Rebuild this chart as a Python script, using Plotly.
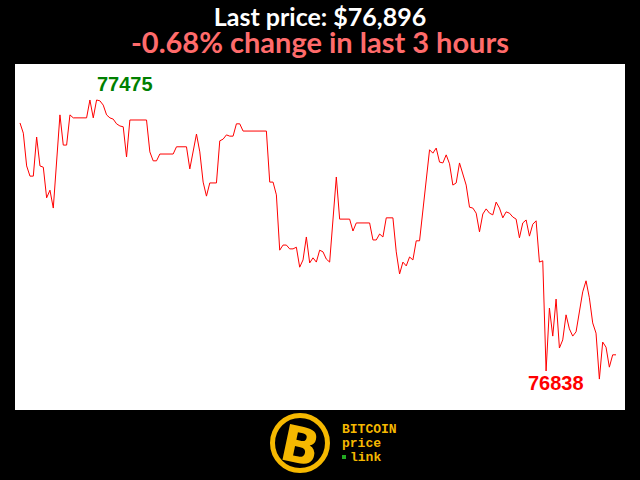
import plotly.graph_objects as go

# minute index within the 3-hour window, and price (USD)
minutes = [0, 1, 2, 3, 4, 5, 6, 7, 8, 9, 10, 12, 13, 14, 15, 16, 20, 21, 22, 23,
           24, 25, 26, 27, 28, 29, 30, 31, 32, 33, 38, 39, 40, 41, 42, 46, 47, 50, 51, 53,
           54, 55, 56, 57, 59, 60, 61, 62, 63, 64, 65, 66, 67, 74, 75, 76, 77, 78, 79, 80,
           81, 82, 83, 84, 85, 86, 87, 88, 89, 90, 91, 92, 93, 95, 96, 99, 100, 101, 105, 106,
           107, 108, 109, 110, 112, 113, 114, 115, 116, 117, 118, 119, 120, 123, 124, 125, 126, 127, 128, 129,
           130, 131, 132, 133, 134, 135, 136, 137, 138, 139, 140, 141, 142, 143, 144, 145, 146, 147, 148, 149,
           150, 151, 152, 153, 154, 155, 156, 157, 158, 159, 160, 161, 162, 163, 164, 165, 166, 167, 168, 169,
           170, 171, 172, 173, 174, 175, 176, 177, 178, 179]
prices = [77421, 77397, 77320, 77296, 77296, 77388, 77320, 77317, 77245, 77263, 77221, 77440, 77369, 77369, 77440, 77433, 77433, 77475, 77433, 77475,
          77473, 77463, 77440, 77433, 77430, 77419, 77414, 77412, 77341, 77428, 77428, 77353, 77332, 77332, 77348, 77348, 77365, 77365, 77313, 77395,
          77353, 77282, 77249, 77280, 77280, 77379, 77383, 77393, 77390, 77390, 77419, 77419, 77402, 77402, 77282, 77282, 77252, 77122, 77134, 77134,
          77125, 77125, 77129, 77082, 77099, 77153, 77092, 77104, 77094, 77122, 77118, 77101, 77094, 77294, 77195, 77195, 77167, 77186, 77186, 77146,
          77146, 77160, 77153, 77198, 77198, 77118, 77066, 77094, 77085, 77106, 77099, 77144, 77144, 77358, 77350, 77362, 77329, 77327, 77346, 77325,
          77275, 77280, 77327, 77303, 77275, 77223, 77221, 77209, 77165, 77207, 77219, 77209, 77205, 77235, 77221, 77198, 77212, 77209, 77200, 77195,
          77151, 77186, 77193, 77155, 77183, 77191, 77094, 77097, 76838, 76986, 76920, 77007, 76892, 76911, 76970, 76937, 76920, 76930, 76977, 77024,
          77050, 77010, 76951, 76927, 76819, 76906, 76894, 76847, 76876, 76876]

last_price = "$76,896"
change_pct = "-0.68%"
high_label = 77475
low_label = 76838

hi_i = minutes[prices.index(high_label)]
lo_i = minutes[prices.index(low_label)]

fig = go.Figure()
fig.add_trace(go.Scatter(x=minutes, y=prices, mode="lines",
                         line=dict(color="#ff0000", width=1), hoverinfo="skip"))

GOLD = "#f5b800"
title_html = (f"<span style='font-size:25px;color:#ffffff'>Last price: {last_price}</span><br>"
              f"<span style='font-size:29px;color:#ff6b6b'>{change_pct} change in last 3 hours</span>")

fig.update_layout(
    width=640, height=480,
    paper_bgcolor="#000000", plot_bgcolor="#ffffff",
    margin=dict(l=15, r=15, t=64, b=70),
    showlegend=False,
    xaxis=dict(range=[-1.5, 181.7], visible=False, showgrid=False, zeroline=False, fixedrange=True),
    yaxis=dict(range=[76746.3, 77559.6], visible=False, showgrid=False, zeroline=False, fixedrange=True),
    annotations=[
        dict(text=title_html, xref="paper", yref="paper", x=0.5, y=1, yshift=3,
             xanchor="center", yanchor="bottom", showarrow=False, align="center",
             font=dict(family="Lato", size=21, color="#ffffff", weight="bold")),
        dict(text=str(high_label), x=hi_i, y=high_label, xshift=35, yshift=16,
             xanchor="center", yanchor="middle", showarrow=False,
             font=dict(family="Liberation Sans", size=20, color="#008000", weight="bold")),
        dict(text=str(low_label), x=lo_i, y=low_label, xshift=10, yshift=-12,
             xanchor="center", yanchor="middle", showarrow=False,
             font=dict(family="Liberation Sans", size=20, color="#ff0000", weight="bold")),
        # logo
        dict(text="B", xref="paper", yref="paper", x=(300 - 15) / 610, y=(410 - 446) / 346,
             xanchor="center", yanchor="middle", showarrow=False, textangle=12,
             font=dict(family="DejaVu Sans", size=50, color=GOLD, weight="bold")),
        dict(text="BITCOIN", xref="paper", yref="paper", x=(340 - 15) / 610, y=(410 - 429) / 346,
             xanchor="left", yanchor="middle", showarrow=False,
             font=dict(family="Liberation Mono", size=13, color=GOLD, weight="bold")),
        dict(text="price", xref="paper", yref="paper", x=(340 - 15) / 610, y=(410 - 443) / 346,
             xanchor="left", yanchor="middle", showarrow=False,
             font=dict(family="Liberation Mono", size=13, color=GOLD, weight="bold")),
        dict(text="link", xref="paper", yref="paper", x=(348 - 15) / 610, y=(410 - 457) / 346,
             xanchor="left", yanchor="middle", showarrow=False,
             font=dict(family="Liberation Mono", size=13, color=GOLD, weight="bold")),
    ],
    shapes=[
        dict(type="circle", xref="paper", yref="paper", xsizemode="pixel", ysizemode="pixel",
             xanchor=(300 - 15) / 610, yanchor=(410 - 443) / 346,
             x0=-27.5, x1=27.5, y0=-27.5, y1=27.5,
             line=dict(color=GOLD, width=5), fillcolor="#000000", layer="below"),
        dict(type="rect", xref="paper", yref="paper", xsizemode="pixel", ysizemode="pixel",
             xanchor=(344 - 15) / 610, yanchor=(410 - 457) / 346,
             x0=-2, x1=2, y0=-2, y1=2,
             line=dict(width=0), fillcolor="#22aa22", layer="above"),
    ],
)

fig.write_html("out.html", config={"displayModeBar": False},
               post_script="document.body.style.margin='0';document.body.style.overflow='hidden';")
